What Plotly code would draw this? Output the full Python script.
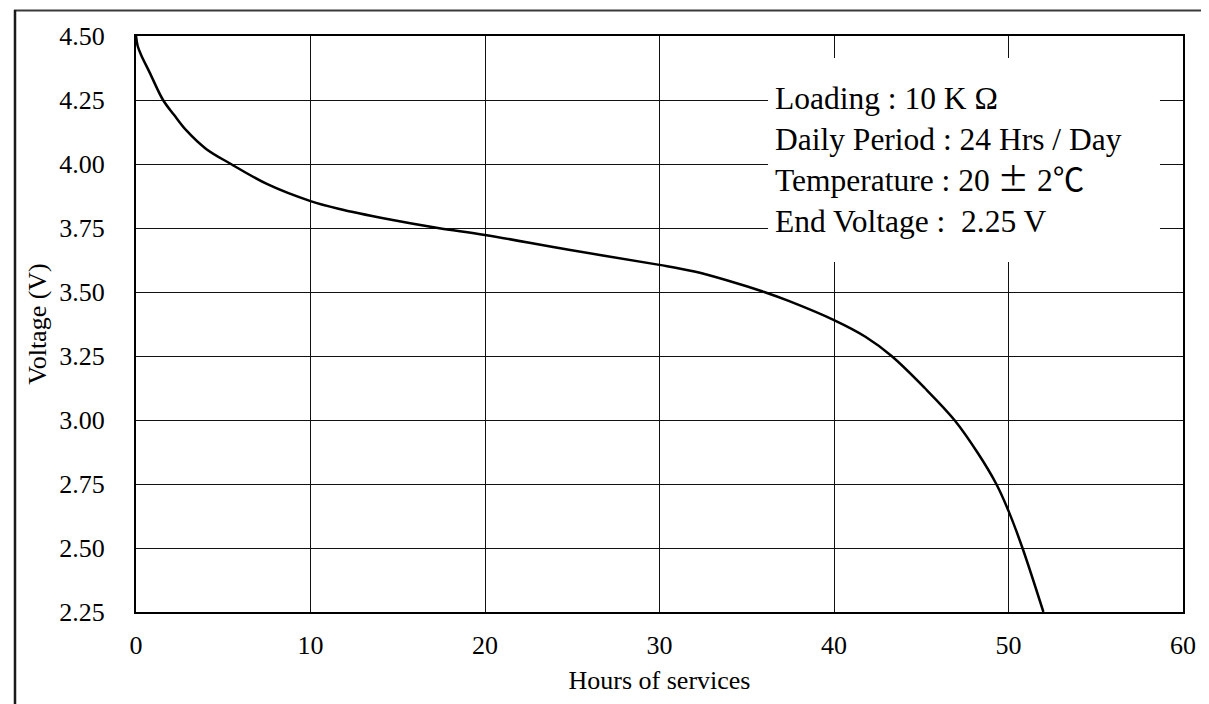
import plotly.graph_objects as go

# ---- data ----
hours = [0, 0.1, 0.3, 0.8, 1.55, 2.2, 2.9, 4.0, 5.44, 7.56, 10, 11.6, 14.4, 17.3,
         20, 24.8, 30, 32.0, 33.9, 36.0, 37.4, 40, 41.8, 43.3, 45.2, 46.9, 48.25,
         49.3, 50, 50.8, 52.0]
voltage = [4.50, 4.46, 4.425, 4.355, 4.25, 4.19, 4.13, 4.06, 4.00, 3.92, 3.855,
           3.825, 3.785, 3.75, 3.723, 3.665, 3.606, 3.58, 3.545, 3.50, 3.465, 3.39,
           3.325, 3.25, 3.125, 3.00, 2.87, 2.75, 2.645, 2.50, 2.25]

x_ticks = [0, 10, 20, 30, 40, 50, 60]
y_ticks = [2.25, 2.50, 2.75, 3.00, 3.25, 3.50, 3.75, 4.00, 4.25, 4.50]

CJK = "font-family:'Noto Sans CJK SC'"
info_lines = ["Loading : 10 K Ω",
              "Daily Period : 24 Hrs / Day",
              f"Temperature : 20 <span style=\"{CJK}\">±</span> 2<span style=\"{CJK}\">℃</span>",
              "End Voltage : \u00a02.25 V"]

x_title = "Hours of services"
y_title = "Voltage (V)"

FONT = "Liberation Serif, Times New Roman, serif"

W, H = 1209, 704
ML, MR, MT, MB = 128, 34, 28, 100
PW, PH = W - ML - MR, H - MT - MB


def px(xp):
    return (xp - ML) / PW


def py(yp):
    return (H - MB - yp) / PH


fig = go.Figure()
fig.add_trace(go.Scatter(
    x=hours, y=voltage, mode="lines",
    line=dict(color="black", width=2.5, shape="spline", smoothing=1.0),
    showlegend=False, hoverinfo="skip",
))

axis_common = dict(
    showgrid=True, gridcolor="#111111", gridwidth=1.4,
    showline=True, linecolor="black", linewidth=2.2, mirror=True,
    zeroline=False, ticks="",
    tickfont=dict(family=FONT, size=26, color="black"),
)

fig.update_xaxes(
    range=[0, 60], tickvals=x_ticks, ticktext=[str(v) for v in x_ticks],
    title=dict(text=x_title, font=dict(family=FONT, size=26, color="black"), standoff=12),
    ticklabelstandoff=9,
    **axis_common,
)
fig.update_yaxes(
    range=[2.25, 4.50], tickvals=y_ticks, ticktext=[f"{v:.2f}" for v in y_ticks],
    title=dict(text=y_title, font=dict(family=FONT, size=26, color="black"), standoff=5),
    ticklabelstandoff=24,
    **axis_common,
)

shapes = [
    # white area behind the test-condition text (interrupts grid lines)
    dict(type="rect", xref="x", yref="y", x0=36.22, x1=58.68, y0=3.617, y1=4.414,
         fillcolor="white", line=dict(width=0), layer="above"),
    # outer frame of the picture
    dict(type="line", xref="paper", yref="paper", x0=px(6), x1=px(1209), y0=py(2.5), y1=py(2.5),
         line=dict(color="#3a3a3a", width=2)),
    dict(type="line", xref="paper", yref="paper", x0=px(7), x1=px(7), y0=py(2), y1=py(720),
         line=dict(color="#1a1a1a", width=2.5)),
    dict(type="line", xref="paper", yref="paper", x0=px(1208), x1=px(1208), y0=py(2), y1=py(720),
         line=dict(color="#bdbdbd", width=1)),
]

fig.add_annotation(
    x=36.5, y=4.014, xref="x", yref="y",
    text="<br>".join(info_lines), showarrow=False,
    xanchor="left", yanchor="middle", align="left",
    font=dict(family=FONT, size=31.5, color="black"),
)

fig.update_layout(
    width=W, height=H,
    margin=dict(l=ML, r=MR, t=MT, b=MB, autoexpand=False),
    paper_bgcolor="white", plot_bgcolor="white",
    shapes=shapes, showlegend=False,
)

fig.write_html("out.html")
